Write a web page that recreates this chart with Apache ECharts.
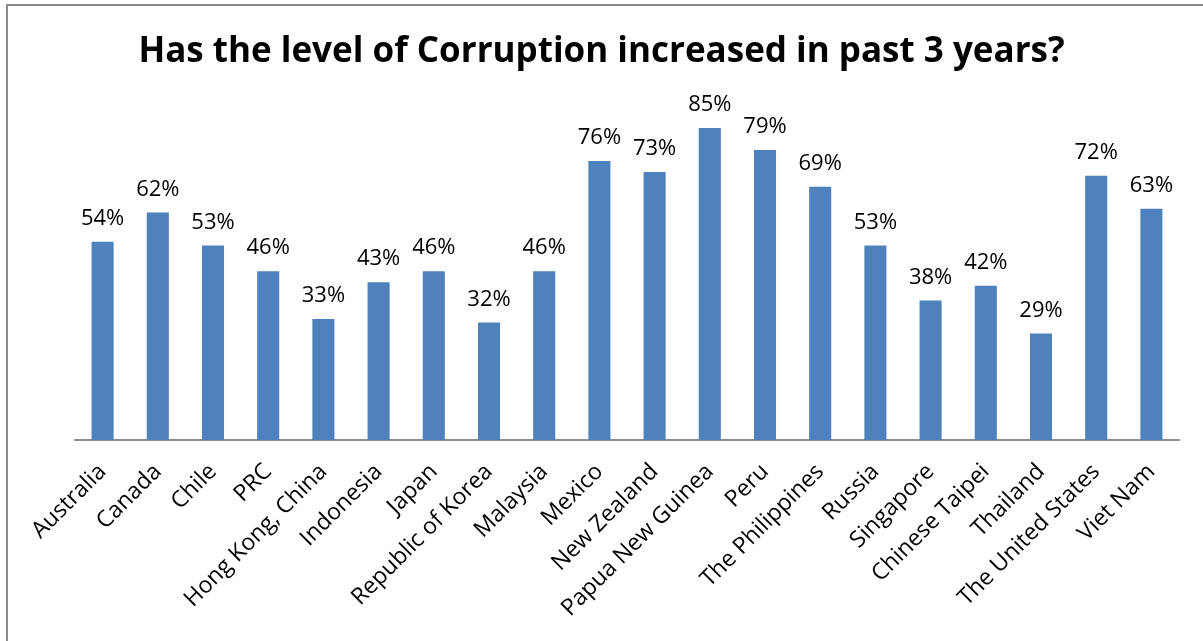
<!DOCTYPE html>
<html>
<head>
<meta charset="utf-8">
<script src="https://cdn.jsdelivr.net/npm/echarts@6/dist/echarts.min.js"></script>
<style>
  html, body { margin: 0; padding: 0; background: #fff; }
  #chart { width: 1203px; height: 641px; }
</style>
</head>
<body>
<div id="chart"></div>
<script>
// Survey: share of respondents saying corruption has increased in the past 3 years
const countries = [
  'Australia', 'Canada', 'Chile', 'PRC', 'Hong Kong, China', 'Indonesia', 'Japan',
  'Republic of Korea', 'Malaysia', 'Mexico', 'New Zealand', 'Papua New Guinea', 'Peru',
  'The Philippines', 'Russia', 'Singapore', 'Chinese Taipei', 'Thailand',
  'The United States', 'Viet Nam'
];
const increasedPct = [54, 62, 53, 46, 33, 43, 46, 32, 46, 76, 73, 85, 79, 69, 53, 38, 42, 29, 72, 63];

const titleText = 'Has the level of Corruption increased in past 3 years?';
const font = '"Open Sans", "Noto Sans", sans-serif';

const chart = echarts.init(document.getElementById('chart'));
chart.setOption({
  animation: false,
  backgroundColor: '#ffffff',
  title: {
    text: titleText,
    left: 'center',
    top: 30,
    textStyle: { fontFamily: font, fontSize: 35, fontWeight: 'bold', color: '#000' }
  },
  grid: { left: 75, right: 24, top: 73, bottom: 201 },
  xAxis: {
    type: 'category',
    data: countries,
    axisLine: { lineStyle: { color: '#8c8c8c', width: 2 } },
    axisTick: { show: false },
    axisLabel: {
      interval: 0,
      rotate: 45,
      margin: 28,
      fontFamily: font,
      fontSize: 23,
      color: '#000'
    }
  },
  yAxis: {
    type: 'value',
    min: 0,
    max: 100,
    show: false
  },
  series: [{
    type: 'bar',
    data: increasedPct,
    barCategoryGap: '60%',
    itemStyle: { color: '#4f81bd' },
    label: {
      show: true,
      position: 'top',
      distance: 12,
      formatter: p => p.value + '%',
      fontFamily: font,
      fontSize: 22,
      color: '#000'
    }
  }],
  graphic: [
    { type: 'line', shape: { x1: 6, y1: 5, x2: 1203, y2: 5 }, style: { stroke: '#8a8a8a', lineWidth: 2 } },
    { type: 'line', shape: { x1: 7, y1: 4, x2: 7, y2: 641 }, style: { stroke: '#8a8a8a', lineWidth: 2 } }
  ]
});
</script>
</body>
</html>
